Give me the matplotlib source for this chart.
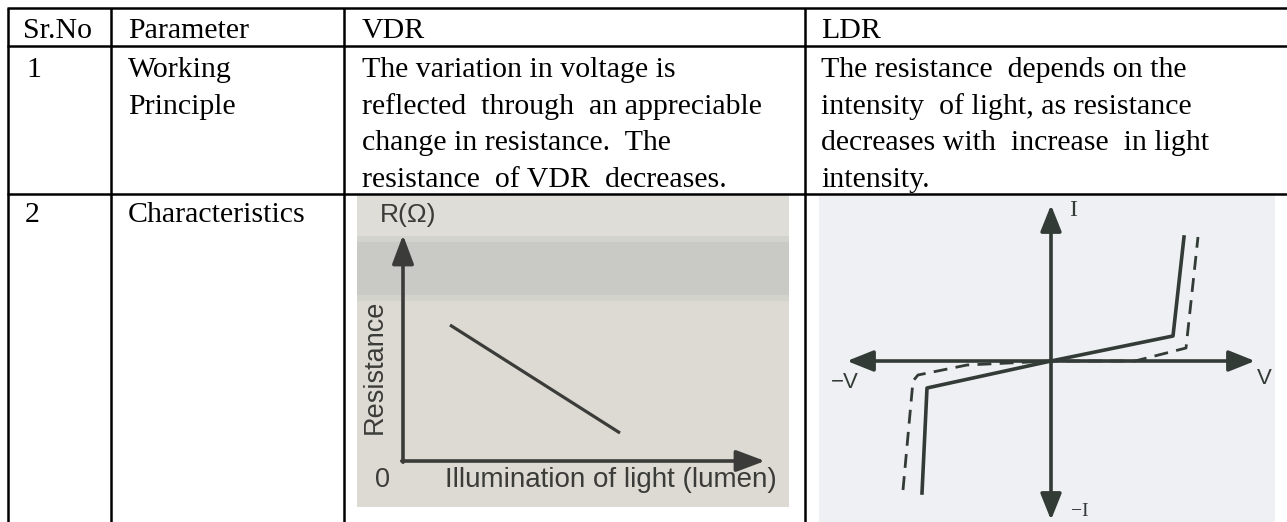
import matplotlib
matplotlib.use('Agg')
import matplotlib.pyplot as plt

W, H = 1287, 522

# ---------------- data ----------------
headers = ["Sr.No", "Parameter", "VDR", "LDR"]
sr_numbers = ["1", "2"]
row1_parameter = ["Working", "Principle"]
row2_parameter = ["Characteristics"]
vdr_text = ["The variation in voltage is",
            "reflected  through  an appreciable",
            "change in resistance.  The",
            "resistance  of VDR  decreases."]
ldr_text = ["The resistance  depends on the",
            "intensity  of light, as resistance",
            "decreases with  increase  in light",
            "intensity."]

# VDR characteristic: illumination (lumen) vs resistance (arbitrary units)
vdr_illumination = [0.47, 2.17]
vdr_resistance = [1.36, 0.28]

# LDR I-V characteristic (arbitrary units)
ldr_solid_v = [-1.29, -1.24, 0.0, 1.22, 1.33]
ldr_solid_i = [-1.32, -0.27, 0.0, 0.25, 1.24]
ldr_dash_v = [-1.48, -1.38, -1.33, -0.84, 0.0, 0.84, 1.35, 1.47]
ldr_dash_i = [-1.29, -0.20, -0.14, -0.04, 0.0, 0.0, 0.13, 1.24]

# ---------------- figure ----------------
SERIF = ['Liberation Serif', 'DejaVu Serif']
SANS = ['Liberation Sans', 'DejaVu Sans']
plt.rcParams['font.family'] = SERIF

fig = plt.figure(figsize=(W / 100, H / 100), dpi=100)
fig.patch.set_facecolor('white')


def px_axes(x0, y0, x1, y1, z=1):
    return fig.add_axes([x0 / W, 1 - y1 / H, (x1 - x0) / W, (y1 - y0) / H], zorder=z)


def bare(ax, fc):
    ax.set_facecolor(fc)
    ax.set_xticks([])
    ax.set_yticks([])
    for s in ax.spines.values():
        s.set_visible(False)


# ---- VDR picture ----
axv = px_axes(357, 195, 789, 507)
axv.set_xlim(-0.46, 3.86)
axv.set_ylim(-0.46, 2.66)
bare(axv, '#dcdad3')
axv.axhspan(2.21, 2.66, color='#dfddd7', lw=0, zorder=0)
axv.axhspan(1.60, 2.25, color='#d3d3ce', lw=0, zorder=0)
axv.axhspan(1.66, 2.19, color='#c9cac5', lw=0, zorder=0)
cv = '#3b3c39'
arrow_v = dict(arrowstyle='-|>,head_length=0.8,head_width=0.3', color=cv, lw=2.6,
               mutation_scale=22, shrinkA=0, shrinkB=0)
axv.annotate('', xy=(0, 2.26), xytext=(0, -0.012), arrowprops=arrow_v)
axv.annotate('', xy=(3.62, 0), xytext=(-0.012, 0), arrowprops=arrow_v)
axv.plot(vdr_illumination, vdr_resistance, color=cv, lw=2.3, solid_capstyle='butt')
axv.text(0.05, 2.46, "R(Ω)", family=SANS, fontsize=19, color=cv, ha='center', va='center')
axv.text(-0.28, 0.94, "Resistance", family=SANS, fontsize=19.5, color=cv,
         ha='center', va='center', rotation=90)
axv.text(-0.21, -0.19, "0", family=SANS, fontsize=19.5, color=cv, ha='center', va='center')
axv.text(0.42, -0.19, "Illumination of light (lumen)", family=SANS, fontsize=20,
         color=cv, ha='left', va='center')

# ---- LDR picture ----
axl = px_axes(819, 195, 1275, 522)
axl.set_xlim(-2.32, 2.24)
axl.set_ylim(-1.61, 1.66)
bare(axl, '#eef0f3')
cl = '#333b36'
arrow_l = dict(arrowstyle='-|>,head_length=0.8,head_width=0.32', color=cl, lw=2.6,
               mutation_scale=20, shrinkA=0, shrinkB=0)
axl.plot(ldr_dash_v, ldr_dash_i, color=cl, lw=2.0, dashes=(5, 3), zorder=2)
axl.plot(ldr_solid_v, ldr_solid_i, color=cl, lw=2.6, zorder=3)
axl.annotate('', xy=(2.04, 0), xytext=(0, 0), arrowprops=arrow_l, zorder=4)
axl.annotate('', xy=(-2.04, 0), xytext=(0, 0), arrowprops=arrow_l, zorder=4)
axl.annotate('', xy=(0, 1.56), xytext=(0, 0), arrowprops=arrow_l, zorder=4)
axl.annotate('', xy=(0, -1.59), xytext=(0, 0), arrowprops=arrow_l, zorder=4)
axl.text(0.22, 1.50, "I", family=SERIF, fontsize=17, color=cl, ha='center', va='center')
axl.text(2.13, -0.18, "V", family=SANS, fontsize=16, color=cl, ha='center', va='center')
axl.text(-2.06, -0.22, "−V", family=SANS, fontsize=16, color=cl, ha='center', va='center')
axl.text(0.29, -1.50, "−I", family=SERIF, fontsize=14, color=cl, ha='center', va='center')

# ---- table (pixel coordinates) ----
ax = fig.add_axes([0, 0, 1, 1], zorder=10)
ax.set_xlim(0, W)
ax.set_ylim(H, 0)
ax.patch.set_alpha(0)
ax.axis('off')

lw = 1.8
col_x = [8, 111, 344, 805]
row_y = [8, 46, 194]
for y in row_y:
    ax.plot([col_x[0] - 1, W], [y, y], color='black', lw=lw, solid_capstyle='butt')
for x in col_x:
    ax.plot([x, x], [row_y[0], H], color='black', lw=lw, solid_capstyle='butt')

fs = 21.5
text_x = [23, 128, 362, 821]
for x, t in zip(text_x, headers):
    ax.text(x, 38, t, fontsize=fs, ha='left', va='baseline')

line_y = [77, 113.7, 150.3, 187]
ax.text(26, line_y[0], sr_numbers[0], fontsize=fs, ha='left', va='baseline')
for y, t in zip(line_y, row1_parameter):
    ax.text(text_x[1], y, t, fontsize=fs, ha='left', va='baseline')
for y, t in zip(line_y, vdr_text):
    ax.text(text_x[2], y, t, fontsize=fs, ha='left', va='baseline')
for y, t in zip(line_y, ldr_text):
    ax.text(text_x[3], y, t, fontsize=fs, ha='left', va='baseline')

ax.text(25, 222, sr_numbers[1], fontsize=fs, ha='left', va='baseline')
ax.text(text_x[1], 222, row2_parameter[0], fontsize=fs, ha='left', va='baseline')

fig.savefig('out.png', dpi=100)
